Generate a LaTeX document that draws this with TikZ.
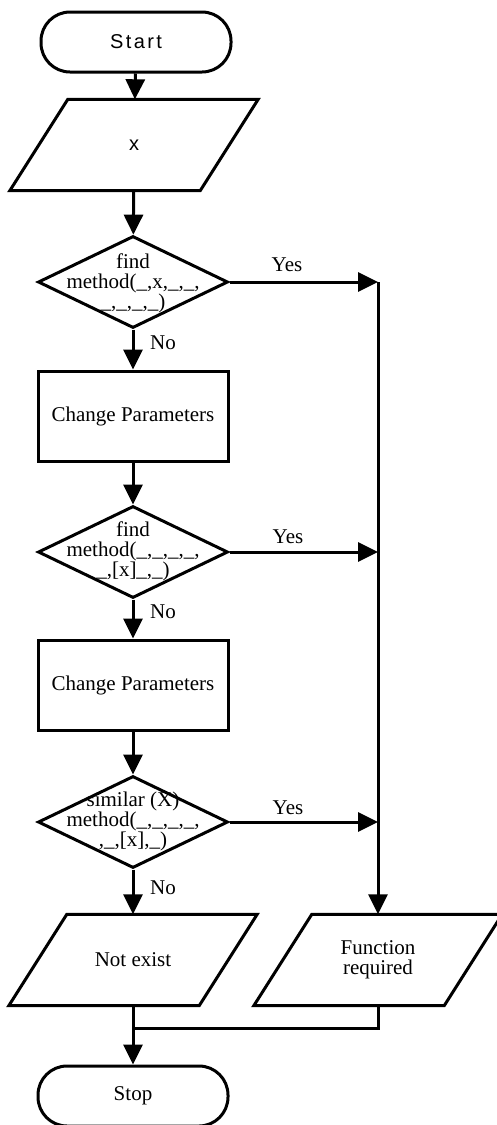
\documentclass[tikz,border=0pt]{standalone}
\usepackage{fontspec}
\setmainfont{Liberation Serif}
\newfontfamily\startfont[LetterSpace=12]{Liberation Sans}
\newfontfamily\sansfont{Liberation Sans}
\usetikzlibrary{shapes.geometric,arrows.meta}
\tikzset{
  base/.style={draw=black, line width=3pt, font=\fontsize{21}{20}\selectfont, align=center, inner sep=0pt},
  terminal/.style={base, rectangle, rounded corners=29pt, minimum width=190pt, minimum height=60pt},
  proc/.style={base, rectangle, minimum width=190pt, minimum height=90pt},
  io/.style={font=\fontsize{21}{20}\selectfont, align=center, inner sep=0pt, rectangle,
    minimum width=248pt, minimum height=91pt,
    append after command={\pgfextra{\draw[plain]
      ([xshift=58pt]\tikzlastnode.north west) -- (\tikzlastnode.north east)
      -- ([xshift=-58pt]\tikzlastnode.south east) -- (\tikzlastnode.south west) -- cycle;}}},
  decision/.style={base, diamond, aspect=2.07, minimum width=190pt, minimum height=92pt},
  txt/.style={font=\fontsize{21}{20}\selectfont, align=center, inner sep=0pt},
  flow/.style={line width=3pt, -{Triangle[length=20pt,width=19pt]}},
  plain/.style={line width=3pt}
}
\begin{document}
\begin{tikzpicture}[x=1pt,y=-1pt]
\useasboundingbox (0,0) rectangle (497,1125);

\node[terminal, font=\startfont\fontsize{20}{20}\selectfont] (start) at (136,42) {Start};
\node[io, font=\sansfont\fontsize{20}{20}\selectfont] (in) at (134,145) {x};

\node[decision] (d1) at (133,282) {};
\node[txt] (d1t) at (133,283) {find\\method(\_,x,\_,\_,\\\_,\_,\_,\_)};

\node[proc] (p1) at (133,416) {Change Parameters};

\node[decision] (d2) at (133,552) {};
\node[txt] (d2t) at (133,551) {find\\method(\_,\_,\_,\_,\\\_,[x]\_,\_)};

\node[proc] (p2) at (133,685) {Change Parameters};

\node[decision] (d3) at (133,822) {};
\node[txt] (d3t) at (133,821) {similar (X)\\method(\_,\_,\_,\_,\\,\_,[x],\_)};

\node[io] (ne) at (133,960) {Not exist};
\node[io] (fr) at (378,960) {Function\\required};

\node[terminal] (stop) at (133,1096) {Stop};

\coordinate (j1) at (378,282);
\coordinate (j2) at (378,552);
\coordinate (j3) at (378,822);
\coordinate (m) at (133,1028);

\node[txt] (y1) at (287,265) {Yes};
\node[txt] (y2) at (288,537) {Yes};
\node[txt] (y3) at (288,808) {Yes};
\node[txt] (n1) at (163,343) {No};
\node[txt] (n2) at (163,612) {No};
\node[txt] (n3) at (163,888) {No};

\draw[flow] (start) -- (in);
\draw[flow] (in) -- (d1);
\draw[flow] (d1) -- (p1);
\draw[flow] (p1) -- (d2);
\draw[flow] (d2) -- (p2);
\draw[flow] (p2) -- (d3);
\draw[flow] (d3) -- (ne);
\draw[flow] (d1.east) -- (j1);
\draw[flow] (d2.east) -- (j2);
\draw[flow] (d3.east) -- (j3);
\draw[plain] (j1) -- (j3);
\draw[flow] (j3) -- (fr.north);
\draw[plain] (fr.south) |- (m);
\draw[flow] (ne) -- (stop);
\end{tikzpicture}
\end{document}
